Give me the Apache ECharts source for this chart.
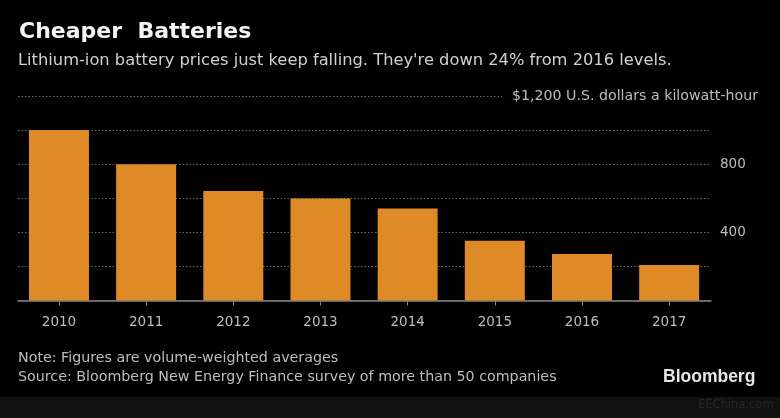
<!DOCTYPE html>
<html>
<head>
<meta charset="utf-8">
<style>
  html, body { margin: 0; padding: 0; background: #010101; }
  #myChart { width: 780px; height: 418px; }
</style>
<script src="https://cdn.jsdelivr.net/npm/echarts@6/dist/echarts.min.js"></script>
</head>
<body>
<div id="myChart"></div>
<script>
const years = [2010, 2011, 2012, 2013, 2014, 2015, 2016, 2017];
const prices = [1000, 800, 642, 599, 540, 350, 273, 209];
const priceLabels = [400, 800];
const topTick = 1200;
const unitLabel = "$1,200 U.S. dollars a kilowatt-hour";

const titleText = "Cheaper  Batteries";
const subtitleText = "Lithium-ion battery prices just keep falling. They're down 24% from 2016 levels.";
const noteText = "Note: Figures are volume-weighted averages";
const sourceText = "Source: Bloomberg New Energy Finance survey of more than 50 companies";
const brandText = "Bloomberg";
const watermarkText = "EEChina.com";

const font = "DejaVu Sans";
const textColor = "#bdbdbd";

const myChart = echarts.init(document.getElementById("myChart"));

const text = function(content, left, top, style) {
  return {
    text: content,
    left: left,
    top: top,
    padding: 0,
    textStyle: Object.assign({ fontFamily: font, color: textColor, fontWeight: "normal" }, style)
  };
};

const option = {
  animation: false,
  backgroundColor: "#010101",
  title: [
    text(titleText, 19, 21, { fontSize: 22, fontWeight: "bold", color: "#f4f4f4" }),
    text(subtitleText, 18, 53, { fontSize: 16.3, color: "#d0d0d0" }),
    text(noteText, 18, 351, { fontSize: 14.25 }),
    text(sourceText, 18, 370, { fontSize: 14.25 }),
    text(brandText, 663, 368, { fontSize: 17.5, fontWeight: "bold", color: "#e6e6e6", fontFamily: "Liberation Sans" }),
    text(watermarkText, 698, 399, { fontSize: 11.5, color: "#272727" })
  ],
  graphic: [{
    type: "rect",
    z: -1,
    shape: { x: 0, y: 397, width: 780, height: 21 },
    style: { fill: "#111111" }
  }],
  grid: { left: 18, right: 69, top: 96, bottom: 117.5 },
  xAxis: {
    type: "value",
    min: 2009.53,
    max: 2017.48,
    splitLine: { show: false },
    axisLine: { show: true, onZero: false, lineStyle: { color: "#858585", width: 1.5 } },
    axisTick: { show: true, customValues: years, length: 5, lineStyle: { color: "#858585" } },
    axisLabel: {
      customValues: years,
      formatter: function(v) { return String(v); },
      margin: 15,
      color: textColor,
      fontFamily: font,
      fontSize: 13.5
    }
  },
  yAxis: [{
    type: "value",
    position: "right",
    min: 0,
    max: topTick,
    interval: 200,
    axisLine: { show: false },
    axisTick: { show: false },
    splitLine: { lineStyle: { color: "#6a6a6a", type: [1.5, 2], width: 1 } },
    axisLabel: {
      customValues: priceLabels,
      margin: 9,
      color: textColor,
      fontFamily: font,
      fontSize: 13.5
    }
  }, {
    type: "value",
    position: "right",
    min: 0,
    max: topTick,
    z: 5,
    axisLine: { show: false },
    axisTick: { show: false },
    splitLine: { show: false },
    axisLabel: {
      customValues: [topTick],
      formatter: function() { return unitLabel; },
      align: "right",
      margin: 47,
      padding: [4, 0, 4, 10],
      backgroundColor: "#010101",
      color: textColor,
      fontFamily: font,
      fontSize: 14.2
    }
  }],
  series: [{
    type: "bar",
    name: "Price",
    barWidth: 60,
    itemStyle: { color: "#dd8a27" },
    data: years.map(function(y, i) { return [y, prices[i]]; })
  }]
};

myChart.setOption(option);
</script>
</body>
</html>
